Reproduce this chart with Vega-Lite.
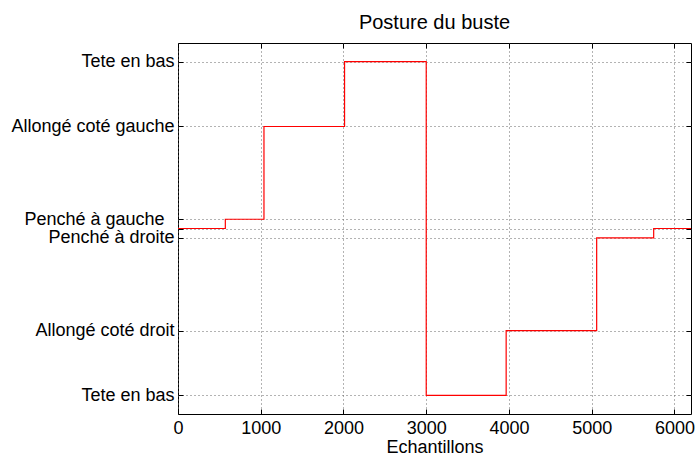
{
  "$schema": "https://vega.github.io/schema/vega-lite/v6.json",
  "autosize": "none",
  "width": 513,
  "height": 371,
  "padding": {"left": 178, "top": 43, "right": 5, "bottom": 41},
  "background": "white",
  "title": {"text": "Posture du buste", "font": "Liberation Sans", "fontSize": 20, "fontWeight": "normal", "color": "black", "offset": 10},
  "data": {"values": [
    {"x": 0, "y": 0},
    {"x": 572, "y": 10},
    {"x": 1039, "y": 110},
    {"x": 2013, "y": 180},
    {"x": 3000, "y": -180},
    {"x": 3966, "y": -110},
    {"x": 5060, "y": -10},
    {"x": 5749, "y": 0},
    {"x": 6200, "y": 0}
  ]},
  "layer": [
    {
      "mark": {"type": "line", "interpolate": "step-after", "color": "#ff0000", "strokeWidth": 1.2},
      "encoding": {
        "x": {"field": "x", "type": "quantitative", "scale": {"domain": [0, 6200], "nice": false, "zero": false},
          "axis": {"orient": "bottom", "title": "Echantillons", "values": [0, 1000, 2000, 3000, 4000, 5000, 6000], "format": "d", "grid": true, "tickSize": -5, "labelPadding": 10, "titlePadding": 1, "labelFlush": false, "labelOverlap": false}},
        "y": {"field": "y", "type": "quantitative", "scale": {"domain": [-200, 200], "nice": false, "zero": false},
          "axis": {"orient": "left", "title": null, "values": [-180, -110, -10, 0, 10, 110, 180], "grid": true, "tickSize": -5,
            "labelPadding": {"condition": {"test": "datum.value == 10", "value": 19}, "value": 9},
            "labelFlush": false, "labelOverlap": false,
            "labelExpr": "datum.value == 180 || datum.value == -180 ? 'Tete en bas' : datum.value == 110 ? 'Allongé coté gauche' : datum.value == 10 ? 'Penché à gauche' : datum.value == -10 ? 'Penché à droite' : datum.value == -110 ? 'Allongé coté droit' : ''"}}
      }
    },
    {
      "mark": {"type": "line", "strokeOpacity": 0},
      "encoding": {
        "x": {"field": "x", "type": "quantitative", "axis": {"orient": "top", "title": null, "labels": false, "grid": false, "tickSize": -5, "values": [0, 1000, 2000, 3000, 4000, 5000, 6000]}},
        "y": {"field": "y", "type": "quantitative", "axis": {"orient": "right", "title": null, "labels": false, "grid": false, "tickSize": -5, "values": [-180, -110, -10, 0, 10, 110, 180]}}
      }
    }
  ],
  "resolve": {"axis": {"x": "independent", "y": "independent"}},
  "config": {
    "view": {"stroke": "black", "strokeWidth": 1},
    "axis": {
      "domain": false,
      "labelFont": "Liberation Sans",
      "labelFontSize": 18,
      "labelColor": "black",
      "titleFont": "Liberation Sans",
      "titleFontSize": 18,
      "titleFontWeight": "normal",
      "titleColor": "black",
      "tickColor": "black",
      "tickWidth": 1,
      "gridColor": "#666666",
      "gridDash": [1, 3],
      "gridWidth": 1
    }
  }
}
